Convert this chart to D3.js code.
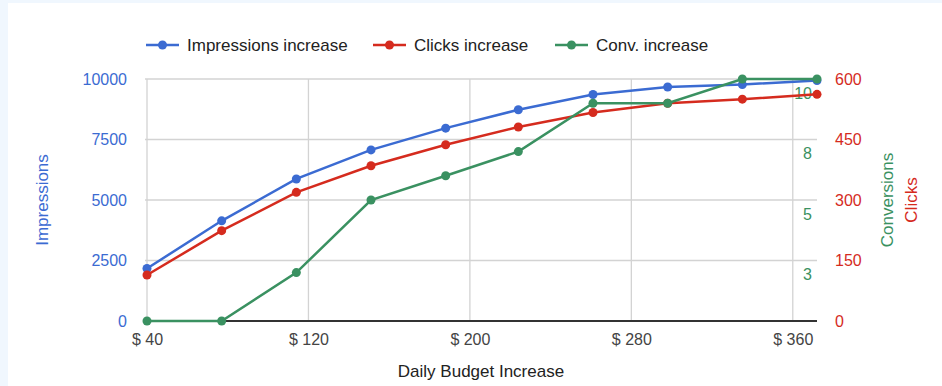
<!DOCTYPE html>
<html>
<head>
<meta charset="utf-8">
<script src="https://cdn.jsdelivr.net/npm/d3@7"></script>
<style>
  html, body { margin: 0; padding: 0; background: #f0f7fe; }
  #chart { position: absolute; left: 8px; top: 3px; width: 934px; height: 383px; background: #fff; }
  text { font-family: Arial, "Liberation Sans", sans-serif; }
</style>
</head>
<body>
<div id="chart"></div>
<script>
// Chart data
const budget = [40, 77, 114, 151, 188, 224, 261, 298, 335, 372];
const impressions = [2170, 4140, 5870, 7070, 7970, 8730, 9360, 9670, 9770, 9940];
const clicks = [114, 224, 319, 385, 437, 481, 517, 540, 550, 562];
const conversions = [0, 0, 2, 5, 6, 7, 9, 9, 10, 10];

const xTicks = [40, 120, 200, 280, 360];
const impTicks = [0, 2500, 5000, 7500, 10000];
const clickTicks = [0, 150, 300, 450, 600];
const convTicks = [2.5, 5, 7.5, 10];

const seriesNames = ["Impressions increase", "Clicks increase", "Conv. increase"];

const blue = "#3b6bd2", red = "#d52b1e", green = "#3a9161";

function drawChart() {
    d3.select("#chart").selectAll("*").remove();

    // whole page is 942x386, chart div is offset by (8,3)
    const width = 942, height = 386;
    const svg = d3.select("#chart")
        .append("svg")
        .attr("width", width)
        .attr("height", height)
        .style("position", "absolute")
        .style("left", "-8px")
        .style("top", "-3px");

    const left = 147, right = 817, top = 79, bottom = 321;

    // Scales
    const x = d3.scaleLinear().domain([40, 372]).range([left, right]);
    const yImp = d3.scaleLinear().domain([0, 10000]).range([bottom, top]);
    const yClk = d3.scaleLinear().domain([0, 600]).range([bottom, top]);
    const yConv = d3.scaleLinear().domain([0, 10]).range([bottom, top]);

    // Gridlines
    const grid = svg.append("g").attr("stroke", "#d3d3d3").attr("stroke-width", 1.3);
    grid.selectAll("line.h")
        .data(impTicks.slice(1))
        .enter().append("line")
        .attr("x1", left - 2).attr("x2", right)
        .attr("y1", d => yImp(d)).attr("y2", d => yImp(d));
    grid.selectAll("line.v")
        .data(xTicks)
        .enter().append("line")
        .attr("x1", d => x(d)).attr("x2", d => x(d))
        .attr("y1", top).attr("y2", bottom);

    // Baseline
    svg.append("line")
        .attr("x1", left - 2).attr("x2", right)
        .attr("y1", bottom).attr("y2", bottom)
        .attr("stroke", "#333").attr("stroke-width", 2);

    // Left axis (impressions)
    const yAxisL = d3.axisLeft(yImp).tickValues(impTicks).tickSize(0).tickPadding(0)
        .tickFormat(d3.format("d"));
    const gL = svg.append("g").attr("transform", `translate(127,0)`).call(yAxisL);
    gL.select(".domain").remove();
    gL.selectAll("text").attr("fill", blue).style("font-size", "16px")
        .attr("font-family", "Arial, 'Liberation Sans', sans-serif");

    // Right axis (clicks)
    const yAxisR = d3.axisRight(yClk).tickValues(clickTicks).tickSize(0).tickPadding(0);
    const gR = svg.append("g").attr("transform", `translate(835,0)`).call(yAxisR);
    gR.select(".domain").remove();
    gR.selectAll("text").attr("fill", red).style("font-size", "16px")
        .attr("font-family", "Arial, 'Liberation Sans', sans-serif");

    // Inner right axis (conversions), labels sit under the gridlines
    const yAxisC = d3.axisLeft(yConv).tickValues(convTicks).tickSize(0).tickPadding(0)
        .tickFormat(d3.format(".0f"));
    const gC = svg.append("g").attr("transform", `translate(812,14)`).call(yAxisC);
    gC.select(".domain").remove();
    gC.selectAll("text").attr("fill", green).style("font-size", "16px")
        .attr("font-family", "Arial, 'Liberation Sans', sans-serif");

    // X axis
    const xAxis = d3.axisBottom(x).tickValues(xTicks).tickSize(0).tickPadding(0)
        .tickFormat(d => "$ " + d);
    const gX = svg.append("g").attr("transform", `translate(0,${bottom + 13})`).call(xAxis);
    gX.select(".domain").remove();
    gX.selectAll("text").attr("fill", "#444").style("font-size", "16px")
        .attr("font-family", "Arial, 'Liberation Sans', sans-serif");

    // Axis titles
    svg.append("text")
        .attr("x", 481).attr("y", 377)
        .attr("text-anchor", "middle")
        .attr("fill", "#222").style("font-size", "17px")
        .text("Daily Budget Increase");
    svg.append("text")
        .attr("transform", "translate(48,200) rotate(-90)")
        .attr("text-anchor", "middle")
        .attr("fill", blue).style("font-size", "17px")
        .text("Impressions");
    svg.append("text")
        .attr("transform", "translate(893,200) rotate(-90)")
        .attr("text-anchor", "middle")
        .attr("fill", green).style("font-size", "17px")
        .text("Conversions");
    svg.append("text")
        .attr("transform", "translate(917,200) rotate(-90)")
        .attr("text-anchor", "middle")
        .attr("fill", red).style("font-size", "17px")
        .text("Clicks");

    // Lines and points
    const series = [
        { values: impressions, y: yImp, color: blue },
        { values: clicks, y: yClk, color: red },
        { values: conversions, y: yConv, color: green }
    ];
    series.forEach(s => {
        const line = d3.line()
            .x((d, i) => x(budget[i]))
            .y(d => s.y(d));
        svg.append("path")
            .datum(s.values)
            .attr("fill", "none")
            .attr("stroke", s.color)
            .attr("stroke-width", 2.5)
            .attr("d", line);
        svg.append("g")
            .selectAll("circle")
            .data(s.values)
            .enter().append("circle")
            .attr("cx", (d, i) => x(budget[i]))
            .attr("cy", d => s.y(d))
            .attr("r", 4.5)
            .attr("fill", s.color);
    });

    // Legend
    const legendX = [146, 373, 555];
    const legend = svg.append("g");
    seriesNames.forEach((name, i) => {
        const g = legend.append("g").attr("transform", `translate(${legendX[i]},45)`);
        g.append("line")
            .attr("x1", 0).attr("x2", 33)
            .attr("stroke", series[i].color).attr("stroke-width", 2.5);
        g.append("circle").attr("cx", 16.5).attr("r", 4.5).attr("fill", series[i].color);
        g.append("text")
            .attr("x", 41).attr("y", 6)
            .attr("fill", "#222").style("font-size", "17px")
            .text(name);
    });
}

drawChart();
</script>
</body>
</html>
